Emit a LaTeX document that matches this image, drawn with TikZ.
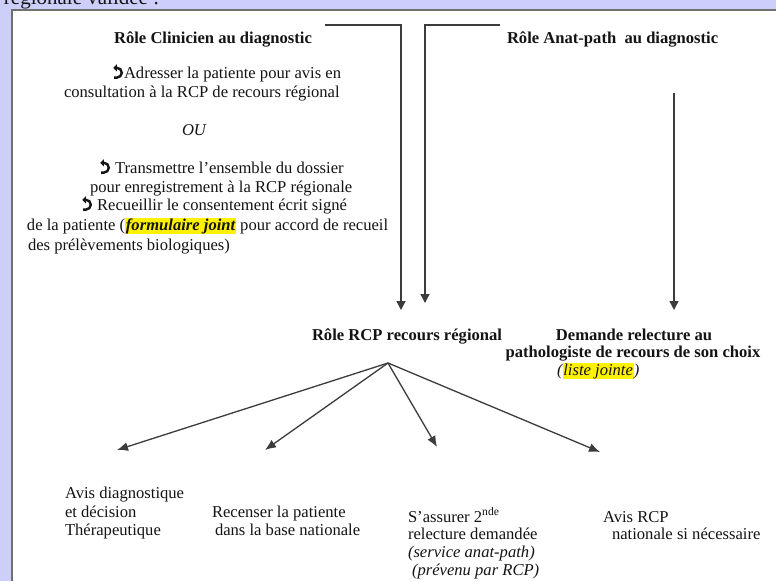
\documentclass[tikz,border=0pt]{standalone}
\usepackage{fontspec}
\setmainfont{Liberation Serif}
\usetikzlibrary{arrows.meta}
\definecolor{lav}{RGB}{206,206,250}
\definecolor{framec}{RGB}{112,112,112}
\definecolor{lnc}{RGB}{60,60,60}
\definecolor{txt}{RGB}{20,20,20}
\newcommand\hlt[1]{{\setlength{\fboxsep}{0.8pt}\colorbox{yellow}{#1}}}
\newcommand\curl{\tikz[baseline=0pt,x=1pt,y=1pt]{\draw[line width=2.4pt,txt] (2,10.2) -- (3,10.2) arc (90:-90:4.9) -- (0.3,0.4); \fill[txt] (-0.6,10.2) -- (3,13.8) -- (3,6.6) -- cycle;}\hspace{1pt}}
\begin{document}
\begin{tikzpicture}[x=1pt,y=-1pt,
  every node/.style={inner sep=0pt, outer sep=0pt, text=txt, font=\fontsize{16.6}{19}\selectfont},
  ttl/.style={font=\fontsize{16.6}{19}\selectfont\bfseries},
  conn/.style={draw=lnc, line width=1.4pt, -{Triangle[length=9pt,width=9pt]}},
  fan/.style={draw=lnc, line width=1.3pt, -{Latex[length=11pt,width=9pt]}}]
\useasboundingbox (0,0) rectangle (776,581);
\fill[lav] (0,0) rectangle (776,581);
\fill[white] (12,10) rectangle (776,581);
\draw[framec, line width=2pt] (12,581) -- (12,10) -- (776,10);
\node[anchor=base west, font=\fontsize{21}{24}\selectfont] (top) at (4,4) {régionale validée :};

% titles
\node[ttl, anchor=base] (clin) at (213,43) {Rôle Clinicien au diagnostic};
\node[ttl, anchor=base west] (anat) at (507,43) {Rôle Anat-path\ \ au diagnostic};

% clinician block
\node[anchor=base west] (l1) at (113,78) {\curl Adresser la patiente pour avis en};
\node[anchor=base west] (l2) at (64,97) {consultation à la RCP de recours régional};
\node[anchor=base west] (ou) at (182,135) {\itshape OU};
\node[anchor=base west] (l3) at (100,173) {\curl\ Transmettre l’ensemble du dossier};
\node[anchor=base west] (l4) at (90,192) {pour enregistrement à la RCP régionale};
\node[anchor=base west] (l5) at (82,210) {\curl\ Recueillir le consentement écrit signé};
\node[anchor=base west] (l6) at (27,230) {de la patiente (\hlt{\bfseries\itshape formulaire joint} pour accord de recueil};
\node[anchor=base west] (l7) at (28,250) {des prélèvements biologiques)};

% middle
\node[ttl, anchor=base west] (rcp) at (312,340) {Rôle RCP recours régional};
\node[ttl, anchor=base] (dem1) at (634,340) {Demande relecture au};
\node[ttl, anchor=base] (dem2) at (633,357) {pathologiste de recours de son choix};
\node[anchor=base west] (dem3) at (557,375) {\itshape (\hlt{liste jointe})};

% connectors
\coordinate (c1s) at (325,25); \coordinate (c1t) at (401,310);
\draw[conn] (c1s) -| (c1t);
\coordinate (c2s) at (500,25); \coordinate (c2t) at (425,303);
\draw[conn] (c2s) -| (c2t);
\coordinate (a3s) at (674,93); \coordinate (a3t) at (674,310);
\draw[conn] (a3s) -- (a3t);

\coordinate (fan) at (388,363);
\coordinate (t1) at (117,450);
\coordinate (t2) at (265,450);
\coordinate (t3) at (437,447);
\coordinate (t4) at (600,452);
\foreach \t in {t1,t2,t3,t4} \draw[fan] (fan) -- (\t);

% bottom
\node[anchor=base west] (b1a) at (65,498) {Avis diagnostique};
\node[anchor=base west] (b1b) at (65,517) {et décision};
\node[anchor=base west] (b1c) at (65,535) {Thérapeutique};
\node[anchor=base west] (b2a) at (212,517) {Recenser la patiente};
\node[anchor=base west] (b2b) at (215,535) {dans la base nationale};
\node[anchor=base west] (b3a) at (408,522) {S’assurer 2\textsuperscript{nde}};
\node[anchor=base west] (b3b) at (408,539) {relecture demandée};
\node[anchor=base west] (b3c) at (408,557) {\itshape (service anat-path)};
\node[anchor=base west] (b3d) at (412,575) {\itshape (prévenu par RCP)};
\node[anchor=base west] (b4a) at (603,522) {Avis RCP};
\node[anchor=base west] (b4b) at (612,539) {nationale si nécessaire};
\end{tikzpicture}
\end{document}
